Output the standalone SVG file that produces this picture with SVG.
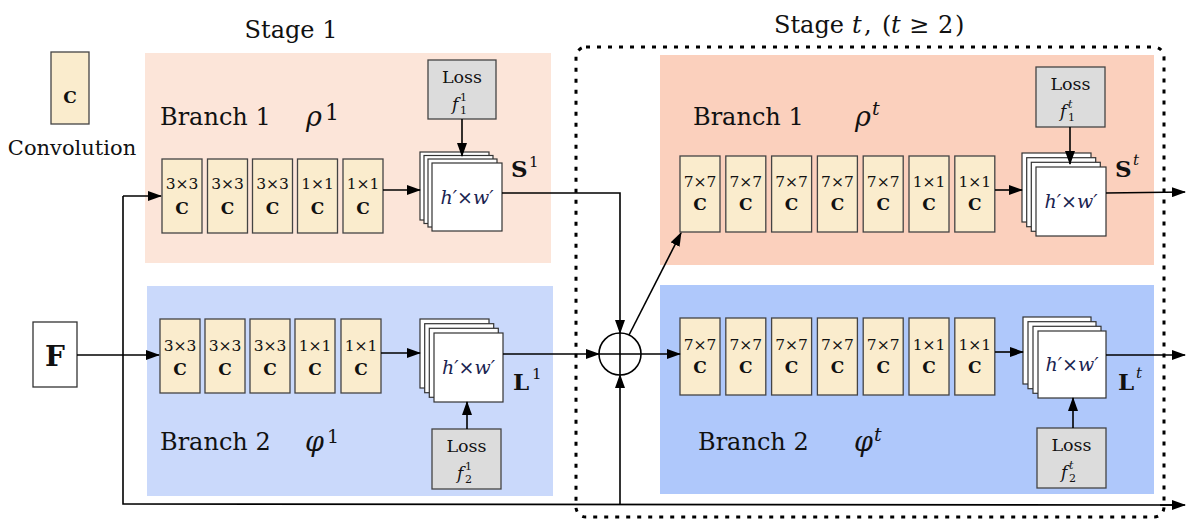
<svg xmlns="http://www.w3.org/2000/svg" width="1192" height="523" viewBox="0 0 1192 523" font-family="'DejaVu Serif', serif">
<style>
text{font-family:"DejaVu Serif",serif;fill:#111}
.lbl{font-size:24px}
.conv{fill:#faeccd;stroke:#444;stroke-width:1.3}
.k{font-size:15.5px;text-anchor:middle}
.c{font-size:17px;font-weight:bold;text-anchor:middle}
.loss{fill:#dcdcdc;stroke:#444;stroke-width:1.3}
.lt{font-size:17.5px;text-anchor:middle}
.sheet{fill:#fff;stroke:#333;stroke-width:1.2}
.hw{font-size:19px;font-style:italic;text-anchor:middle;fill:#1a2350}
.it{font-style:italic}
.bold{font-weight:bold}
.wire{fill:none;stroke:#000;stroke-width:1.6}
.arr{fill:none;stroke:#000;stroke-width:1.6;marker-end:url(#ah)}
</style>
<defs>
<marker id="ah" markerUnits="userSpaceOnUse" markerWidth="14" markerHeight="10" refX="13" refY="5" orient="auto">
<path d="M0,0 L14,5 L0,10 z" fill="#000"/>
</marker>
</defs>
<rect width="1192" height="523" fill="#fff"/>

<g id="stage1-bg">
<rect x="145" y="53" width="406" height="210" fill="#fce5d9"/>
<rect x="147" y="286" width="406" height="210" fill="#cad9fb"/>
</g>
<g id="staget-bg">
<rect x="660" y="55" width="494" height="210" fill="#fbd0bd"/>
<rect x="660" y="285" width="494" height="209" fill="#afc8fb"/>
<rect x="576" y="47" width="588" height="470" rx="10" fill="none" stroke="#000" stroke-width="3" stroke-dasharray="4 7"/>
</g>

<text x="291" y="38" class="lbl" text-anchor="middle">Stage 1</text>
<text class="lbl" y="33"><tspan x="774">Stage</tspan><tspan x="852" class="it">t</tspan><tspan x="864">,</tspan><tspan x="882">(</tspan><tspan x="891" class="it">t</tspan><tspan x="909">≥</tspan><tspan x="938">2</tspan><tspan x="955">)</tspan></text>

<g id="legend">
<rect class="conv" x="51" y="52" width="38" height="72"/>
<text x="70" y="103" class="c">C</text>
<text x="72" y="155" font-size="21" text-anchor="middle">Convolution</text>
</g>

<g id="input-F">
<rect x="33" y="322" width="44" height="65" fill="#fff" stroke="#333" stroke-width="1.3"/>
<text x="55" y="366" font-size="28" font-weight="bold" text-anchor="middle">F</text>
</g>

<g id="s1-branch1">
<text x="160" y="125" class="lbl">Branch 1</text>
<text x="306" y="126" font-size="27" class="it">ρ</text>
<text x="325" y="120" font-size="22">1</text>
<rect class="conv" x="162" y="159" width="40" height="74"/>
<rect class="conv" x="207.5" y="159" width="40" height="74"/>
<rect class="conv" x="252.5" y="159" width="40" height="74"/>
<rect class="conv" x="297.5" y="159" width="40" height="74"/>
<rect class="conv" x="343" y="159" width="40" height="74"/>
<text class="k" x="182" y="189">3×3</text><text class="c" x="182" y="214">C</text>
<text class="k" x="227.5" y="189">3×3</text><text class="c" x="227.5" y="214">C</text>
<text class="k" x="272.5" y="189">3×3</text><text class="c" x="272.5" y="214">C</text>
<text class="k" x="317.5" y="189">1×1</text><text class="c" x="317.5" y="214">C</text>
<text class="k" x="363" y="189">1×1</text><text class="c" x="363" y="214">C</text>
</g>
<g id="s1-S">
<rect class="sheet" x="420" y="152" width="69" height="68" stroke="#777"/>
<rect class="sheet" x="424" y="155.5" width="69" height="68"/>
<rect class="sheet" x="428" y="159" width="69" height="68"/>
<rect class="sheet" x="432" y="163" width="70" height="68"/>
<text class="hw" x="467" y="204">h′×w′</text>
<text x="511" y="177" font-size="23" class="bold">S</text>
<text x="529" y="167" font-size="15">1</text>
</g>
<g id="s1-loss1">
<rect class="loss" x="428" y="60" width="68" height="59"/>
<text class="lt" x="462" y="83">Loss</text>
<text x="452" y="110" font-size="17" class="it">f</text>
<text x="460" y="114" font-size="11">1</text>
<text x="460" y="101" font-size="11">1</text>
</g>

<g id="s1-branch2">
<text x="160" y="450" class="lbl">Branch 2</text>
<text x="305" y="451" font-size="27" class="it">φ</text>
<text x="327" y="443" font-size="19">1</text>
<rect class="conv" x="160" y="319" width="40" height="74"/>
<rect class="conv" x="205" y="319" width="40" height="74"/>
<rect class="conv" x="250" y="319" width="40" height="74"/>
<rect class="conv" x="295" y="319" width="40" height="74"/>
<rect class="conv" x="341" y="319" width="40" height="74"/>
<text class="k" x="180" y="351">3×3</text><text class="c" x="180" y="375">C</text>
<text class="k" x="225" y="351">3×3</text><text class="c" x="225" y="375">C</text>
<text class="k" x="270" y="351">3×3</text><text class="c" x="270" y="375">C</text>
<text class="k" x="315" y="351">1×1</text><text class="c" x="315" y="375">C</text>
<text class="k" x="361" y="351">1×1</text><text class="c" x="361" y="375">C</text>
</g>
<g id="s1-L">
<rect class="sheet" x="420" y="319" width="69" height="69"/>
<rect class="sheet" x="424.7" y="323.7" width="69" height="69"/>
<rect class="sheet" x="429.3" y="328.3" width="69" height="69"/>
<rect class="sheet" x="434" y="333" width="69" height="69"/>
<text class="hw" x="468.5" y="374">h′×w′</text>
<text x="513" y="390" font-size="23" class="bold">L</text>
<text x="532" y="379" font-size="15">1</text>
</g>
<g id="s1-loss2">
<rect class="loss" x="432" y="429" width="69" height="60"/>
<text class="lt" x="466.5" y="452">Loss</text>
<text x="457" y="479" font-size="17" class="it">f</text>
<text x="465" y="483" font-size="11">2</text>
<text x="465" y="470" font-size="11">1</text>
</g>

<g id="st-branch1">
<text x="693" y="125" class="lbl">Branch 1</text>
<text x="855" y="126" font-size="27" class="it">ρ</text>
<text x="872" y="115" font-size="19" class="it">t</text>
<rect class="conv" x="680" y="156" width="40" height="76"/>
<rect class="conv" x="725.8" y="156" width="40" height="76"/>
<rect class="conv" x="771.6" y="156" width="40" height="76"/>
<rect class="conv" x="817.4" y="156" width="40" height="76"/>
<rect class="conv" x="863.2" y="156" width="40" height="76"/>
<rect class="conv" x="909" y="156" width="40" height="76"/>
<rect class="conv" x="954.8" y="156" width="40" height="76"/>
<text class="k" x="700" y="187">7×7</text><text class="c" x="700" y="210">C</text>
<text class="k" x="745.8" y="187">7×7</text><text class="c" x="745.8" y="210">C</text>
<text class="k" x="791.6" y="187">7×7</text><text class="c" x="791.6" y="210">C</text>
<text class="k" x="837.4" y="187">7×7</text><text class="c" x="837.4" y="210">C</text>
<text class="k" x="883.2" y="187">7×7</text><text class="c" x="883.2" y="210">C</text>
<text class="k" x="929" y="187">1×1</text><text class="c" x="929" y="210">C</text>
<text class="k" x="974.8" y="187">1×1</text><text class="c" x="974.8" y="210">C</text>
</g>
<g id="st-S">
<rect class="sheet" x="1022" y="153" width="69" height="69" stroke="#777"/>
<rect class="sheet" x="1026.7" y="157.7" width="69" height="69"/>
<rect class="sheet" x="1031.3" y="162.3" width="69" height="69"/>
<rect class="sheet" x="1036" y="167" width="70" height="69"/>
<text class="hw" x="1071" y="208">h′×w′</text>
<text x="1115" y="177" font-size="23" class="bold">S</text>
<text x="1133" y="165" font-size="15" class="it">t</text>
</g>
<g id="st-loss1">
<rect class="loss" x="1036" y="67" width="69" height="60"/>
<text class="lt" x="1070.5" y="90">Loss</text>
<text x="1060" y="117" font-size="17" class="it">f</text>
<text x="1068" y="121" font-size="11">1</text>
<text x="1068" y="108" font-size="11" class="it">t</text>
</g>

<g id="st-branch2">
<text x="698" y="450" class="lbl">Branch 2</text>
<text x="854" y="451" font-size="27" class="it">φ</text>
<text x="874" y="441" font-size="19" class="it">t</text>
<rect class="conv" x="680" y="318" width="40" height="77"/>
<rect class="conv" x="725.8" y="318" width="40" height="77"/>
<rect class="conv" x="771.6" y="318" width="40" height="77"/>
<rect class="conv" x="817.4" y="318" width="40" height="77"/>
<rect class="conv" x="863.2" y="318" width="40" height="77"/>
<rect class="conv" x="909" y="318" width="40" height="77"/>
<rect class="conv" x="954.8" y="318" width="40" height="77"/>
<text class="k" x="700" y="350">7×7</text><text class="c" x="700" y="373">C</text>
<text class="k" x="745.8" y="350">7×7</text><text class="c" x="745.8" y="373">C</text>
<text class="k" x="791.6" y="350">7×7</text><text class="c" x="791.6" y="373">C</text>
<text class="k" x="837.4" y="350">7×7</text><text class="c" x="837.4" y="373">C</text>
<text class="k" x="883.2" y="350">7×7</text><text class="c" x="883.2" y="373">C</text>
<text class="k" x="929" y="350">1×1</text><text class="c" x="929" y="373">C</text>
<text class="k" x="974.8" y="350">1×1</text><text class="c" x="974.8" y="373">C</text>
</g>
<g id="st-L">
<rect class="sheet" x="1023" y="317" width="68" height="67"/>
<rect class="sheet" x="1028" y="321.7" width="68" height="67"/>
<rect class="sheet" x="1033" y="326.3" width="68" height="67"/>
<rect class="sheet" x="1038" y="331" width="68" height="67"/>
<text class="hw" x="1072" y="371">h′×w′</text>
<text x="1118" y="390" font-size="23" class="bold">L</text>
<text x="1136" y="378" font-size="15" class="it">t</text>
</g>
<g id="st-loss2">
<rect class="loss" x="1037" y="428" width="69" height="60"/>
<text class="lt" x="1071.5" y="451">Loss</text>
<text x="1061" y="478" font-size="17" class="it">f</text>
<text x="1069" y="482" font-size="11">2</text>
<text x="1069" y="469" font-size="11" class="it">t</text>
</g>

<g id="sum">
<circle cx="620" cy="354" r="21" fill="#fff" stroke="#000" stroke-width="1.6"/>
<path d="M599,354 H641 M620,333 V375" stroke="#000" stroke-width="1.6"/>
</g>

<g id="connectors">
<path class="arr" d="M77,355 H159"/>
<path class="wire" d="M123,196 V504 L1172,505"/>
<path class="arr" d="M123,196 H161"/>
<path class="arr" d="M1160,505 H1185"/>
<path class="arr" d="M383,190 H420"/>
<path class="arr" d="M381,353 H420"/>
<path class="arr" d="M502,193 H620 V333"/>
<path class="arr" d="M503,354 H599"/>
<path class="arr" d="M641,354 H680"/>
<path class="arr" d="M629,335 L681,233"/>
<path class="arr" d="M995,190 H1022"/>
<path class="arr" d="M995,352 H1023"/>
<path class="arr" d="M1106,193 L1185,192"/>
<path class="arr" d="M1106,355 H1185"/>
<path class="arr" d="M620,505 V375"/>
<path class="arr" d="M462,119 V156"/>
<path class="arr" d="M467,429 V402"/>
<path class="arr" d="M1070,127 V164"/>
<path class="arr" d="M1073,428 V398"/>
</g>
</svg>
